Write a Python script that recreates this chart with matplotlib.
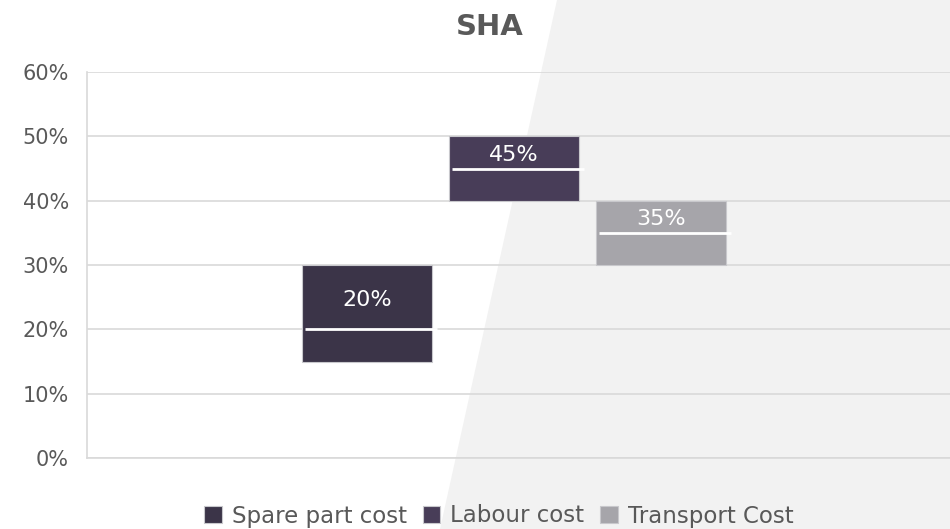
import matplotlib.pyplot as plt
from matplotlib.patches import Polygon
from matplotlib.ticker import FuncFormatter

# data (percent)
series = ["Spare part cost", "Labour cost", "Transport Cost"]
low = [15, 40, 30]
high = [30, 50, 40]
mid = [20, 45, 35]
colors = ["#3b3448", "#483d58", "#a6a5aa"]

plt.rcParams['font.family'] = ['DejaVu Sans']
txt = "#595959"

fig = plt.figure(figsize=(9.5, 5.29), dpi=100)
fig.patch.set_facecolor("white")

# light gray diagonal panel behind the chart
fig.patches.append(Polygon([[557/950, 1], [1, 1], [1, 0], [440/950, 0]],
                           closed=True, transform=fig.transFigure,
                           facecolor="#f2f2f2", edgecolor="none", zorder=-5))

ax = fig.add_axes([87/950, 1 - 458/529, (950 - 87)/950, (458 - 72)/529])
ax.set_facecolor("none")
ax.set_zorder(2)

x = list(range(len(series)))
w = 0.89
for i in x:
    ax.bar(i, high[i] - low[i], bottom=low[i], width=w, color=colors[i],
           edgecolor="#c8c8cc", linewidth=0.8, label=series[i], zorder=3)
    ax.plot([i - w/2 + 0.02, i + w/2 + 0.03], [mid[i], mid[i]],
            color="white", lw=2, zorder=4, solid_capstyle="butt")
    ax.text(i, (mid[i] + high[i])/2 - 0.4, f"{mid[i]}%", ha="center", va="center",
            color="white", fontsize=16, zorder=5)

ax.set_xlim(-1.905, 3.966)
ax.set_ylim(0, 60)
ax.set_yticks(range(0, 61, 10))
ax.yaxis.set_major_formatter(FuncFormatter(lambda v, p: f"{int(v)}%"))
ax.set_xticks([])
ax.grid(axis="y", color="#d9d9d9", lw=1.2, zorder=0)
for s in ["top", "right"]:
    ax.spines[s].set_visible(False)
for s in ["left", "bottom"]:
    ax.spines[s].set_color("#d9d9d9")
    ax.spines[s].set_linewidth(1.2)
ax.tick_params(axis="y", length=0, pad=13, labelsize=15, labelcolor=txt)

fig.text(490/950, 1 - 27/529, "SHA", ha="center", va="center",
         fontsize=21, fontweight="bold", color=txt)

leg = fig.legend(loc="center", bbox_to_anchor=(499/950, 1 - 516/529), ncol=3,
                 frameon=False, fontsize=16.5, handlelength=0.75, handleheight=0.75,
                 handletextpad=0.45, columnspacing=0.7)
for t in leg.get_texts():
    t.set_color(txt)

fig.savefig("out.png", dpi=100)
